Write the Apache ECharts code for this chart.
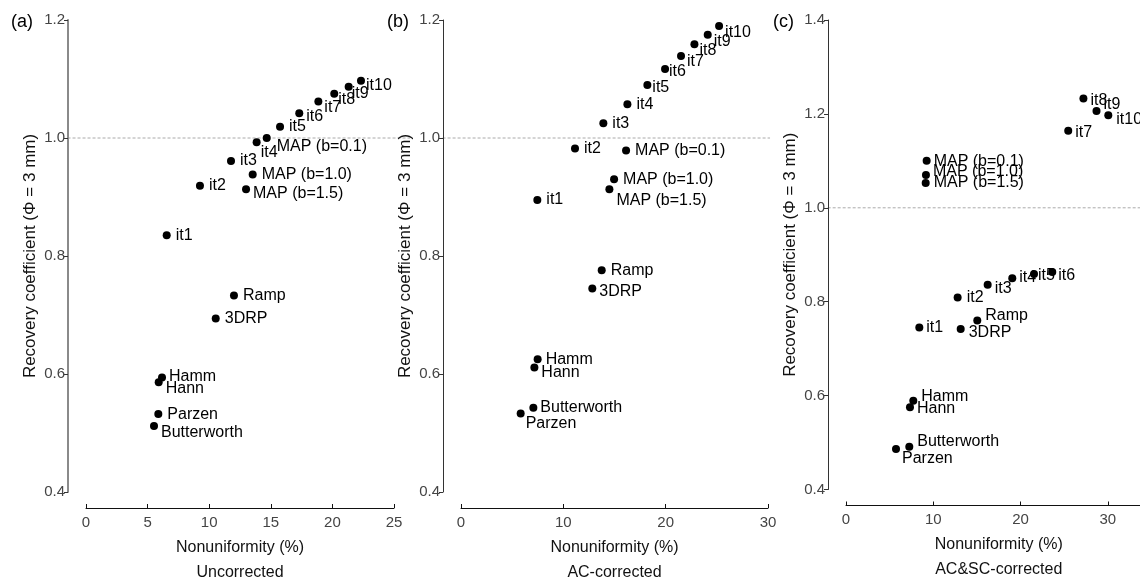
<!DOCTYPE html>
<html>
<head>
<meta charset="utf-8">
<script src="https://cdn.jsdelivr.net/npm/echarts@6/dist/echarts.min.js"></script>
<style>
html,body{margin:0;padding:0;background:#fff;}
#chart{width:1140px;height:578px;}
</style>
</head>
<body>
<div id="chart"></div>
<script>
// ---- data ----
const methods = ['it1','it2','it3','it4','it5','it6','it7','it8','it9','it10',
  'MAP (b=0.1)','MAP (b=1.0)','MAP (b=1.5)','Ramp','3DRP','Hamm','Hann','Parzen','Butterworth'];

const uncorrX = [6.55, 9.25, 11.77, 13.85, 15.75, 17.31, 18.86, 20.15, 21.32, 22.32, 14.67, 13.53, 12.99, 12.01, 10.53, 6.17, 5.90, 5.87, 5.52];
const uncorrY = [0.835, 0.919, 0.961, 0.993, 1.019, 1.042, 1.062, 1.075, 1.087, 1.097, 1.000, 0.938, 0.913, 0.733, 0.694, 0.594, 0.586, 0.532, 0.512];

const acX = [7.46, 11.14, 13.91, 16.26, 18.21, 19.94, 21.50, 22.81, 24.11, 25.22, 16.13, 14.96, 14.50, 13.75, 12.83, 7.49, 7.17, 5.83, 7.07];
const acY = [0.895, 0.982, 1.025, 1.057, 1.090, 1.117, 1.139, 1.159, 1.175, 1.190, 0.979, 0.930, 0.913, 0.776, 0.745, 0.625, 0.611, 0.533, 0.543];

const acscX = [8.40, 12.79, 16.23, 19.05, 21.54, 23.63, 25.46, 27.20, 28.70, 30.05, 9.24, 9.16, 9.13, 15.04, 13.14, 7.71, 7.33, 5.73, 7.25];
const acscY = [0.745, 0.809, 0.836, 0.850, 0.859, 0.863, 1.164, 1.233, 1.206, 1.197, 1.100, 1.070, 1.053, 0.760, 0.742, 0.589, 0.575, 0.486, 0.491];

const panelTags = ['(a)', '(b)', '(c)'];
const panelTitles = ['Uncorrected', 'AC-corrected', 'AC&SC-corrected'];
const xTitle = 'Nonuniformity (%)';
const yTitle = 'Recovery coefficient (\u03A6 = 3 mm)';
const refValue = 1.0;
const refSpanA = [-1.5, 26.3];
const refSpanB = [-1.8, 30.2];
const refSpanC = [-2.1, 40];
const xMax = [25, 30, 35];
const xStep = [5, 10, 10];
const yMax = [1.2, 1.2, 1.4];

// ---- label placement (pixel nudges, not data) ----
const nudgeA = {'it4':[-5,10],'MAP (b=0.1)':[1,9],'it6':[-2,3],'it7':[-3,6],'it8':[-5,6],'it9':[-6,7],'it10':[-4,5],
  'MAP (b=1.5)':[-2,4],'Hamm':[-2,-1],'Hann':[-2,6],'Butterworth':[-2,7]};
const nudgeB = {'it5':[-4,3],'it6':[-5,3],'it7':[-3,6],'it8':[-4,6],'it9':[-3,7],'it10':[-3,7],'MAP (b=1.5)':[-2,11],
  '3DRP':[-2,3],'Hamm':[-1,0],'Hann':[-2,5],'Butterworth':[-2,0],'Parzen':[-4,10]};
const nudgeC = {'MAP (b=0.1)':[-2,1],'MAP (b=1.0)':[-2,-3],'MAP (b=1.5)':[-1,0],'it7':[-2,2],'it8':[-2,2],'it9':[-2,-6],'it10':[-1,4],
  'it3':[-2,4],'it4':[-2,-1],'it5':[-5,2],'it6':[-3,3],'it1':[-2,0],'Ramp':[-1,-5],'3DRP':[-1,4],'Hamm':[-1,-4],'Hann':[-2,1],
  'Butterworth':[-1,-5],'Parzen':[-3,9]};

const FONT = 'Liberation Sans, Arial, sans-serif';
const chart = echarts.init(document.getElementById('chart'), null, {renderer:'canvas'});

const grids = [
  {left:86, top:20, width:308, height:472, outerBoundsMode:'none', containLabel:false},
  {left:461, top:20, width:307, height:472, outerBoundsMode:'none', containLabel:false},
  {left:846, top:20, width:305.5, height:469.5, outerBoundsMode:'none', containLabel:false}
];
const yLineStyles = [{color:'#8a8a8a', width:2}, {color:'#333', width:1}, {color:'#333', width:1}];

const xAxes = [], yAxes = [], series = [];
const sets = [[uncorrX, uncorrY, nudgeA],[acX, acY, nudgeB],[acscX, acscY, nudgeC]];
for (let p=0; p<3; p++){
  xAxes.push({
    gridIndex:p, type:'value', min:0, max:xMax[p], interval:xStep[p], offset:16,
    axisLine:{show:true, onZero:false, lineStyle:{color:'#111', width:1}},
    axisTick:{show:true, inside:true, length:4, lineStyle:{color:'#111'}},
    axisLabel:{color:'#444', fontSize:15, fontFamily:FONT, margin:7, showMaxLabel: p!==2},
    splitLine:{show:false},
    name: xTitle + '\n' + panelTitles[p], nameLocation:'middle', nameGap:23,
    nameTextStyle:{color:'#111', fontSize:16, fontFamily:FONT, lineHeight:25}
  });
  yAxes.push({
    gridIndex:p, type:'value', min:0.4, max:yMax[p], interval:0.2, offset:18,
    axisLine:{show:true, onZero:false, lineStyle:yLineStyles[p]},
    axisTick:{show:true, length:4, lineStyle:{color:'#333'}},
    axisLabel:{color:'#444', fontSize:15, fontFamily:FONT, margin:3, formatter:v=>v.toFixed(1)},
    splitLine:{show:false},
    name: yTitle, nameLocation:'middle', nameGap:29, nameRotate:90,
    nameTextStyle:{color:'#111', fontSize:17, fontFamily:FONT}
  });
  const [xs, ys, nudge] = sets[p];
  series.push({
    type:'scatter', xAxisIndex:p, yAxisIndex:p, symbolSize:8, clip:false,
    itemStyle:{color:'#000', opacity:1},
    label:{show:true, position:'right', distance:5, formatter:'{b}', color:'#000', fontSize:16, fontFamily:FONT},
    labelLayout: function(params){
      const n = methods[params.dataIndex];
      const d = nudge[n] || [0,0];
      return {dx:d[0], dy:d[1], hideOverlap:false};
    },
    data: methods.map((n,i)=>({name:n, value:[xs[i], ys[i]]})), z:3
  });
}

const titles = panelTags.map((t,i)=>({
  text:t, left:[6, 382, 768][i], top:8,
  textStyle:{fontSize:18, fontWeight:'normal', color:'#000', fontFamily:FONT}
}));

chart.setOption({
  animation:false,
  backgroundColor:'#fff',
  title: titles,
  grid: grids,
  xAxis: xAxes,
  yAxis: yAxes,
  series: series
});

// dashed reference line at y = 1.0, positioned through each grid's scales
function drawRefLines(){
  const spans = [refSpanA, refSpanB, refSpanC];
  const els = spans.map((s,p)=>{
    const a = chart.convertToPixel({gridIndex:p}, [s[0], refValue]);
    const b = chart.convertToPixel({gridIndex:p}, [s[1], refValue]);
    return {type:'line', silent:true, z:0,
      shape:{x1:a[0], y1:a[1], x2:b[0], y2:b[1]},
      style:{stroke:'#aaa', lineWidth:1, lineDash:[3,2]}};
  });
  chart.setOption({graphic: els});
}
drawRefLines();
</script>
</body>
</html>
